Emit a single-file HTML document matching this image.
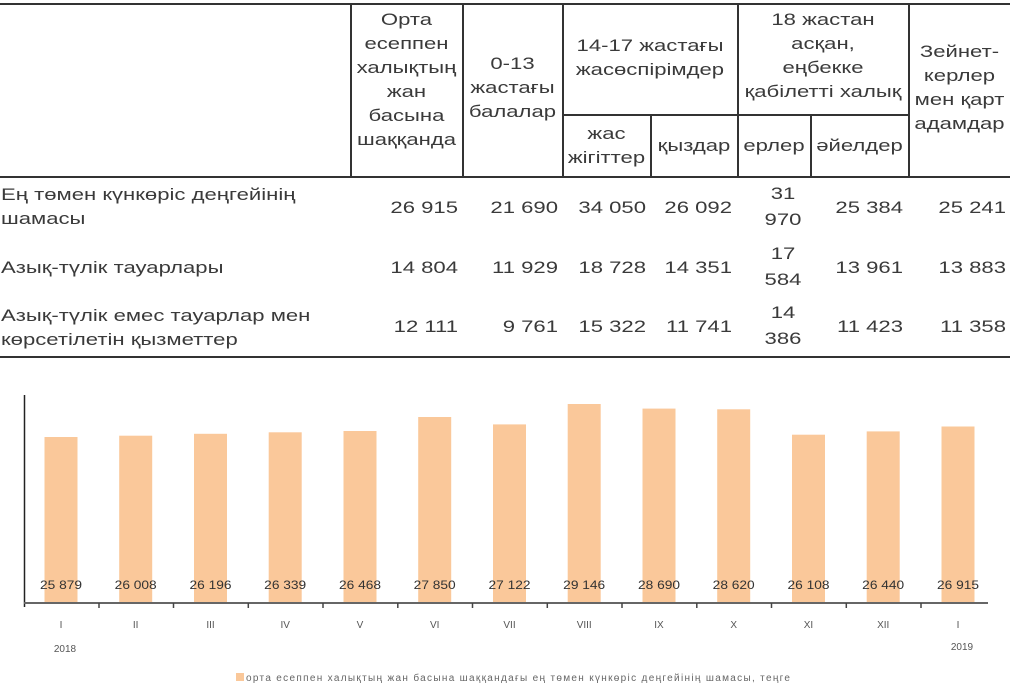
<!DOCTYPE html>
<html><head><meta charset="utf-8"><style>
body{margin:0;width:1024px;height:692px;background:#fff;position:relative;overflow:hidden;font-family:"Liberation Sans",Arial,sans-serif;color:#3a3a3a}
.t{position:absolute;font-size:17px;line-height:24px;white-space:nowrap;transform:scaleX(1.3)}
.c{text-align:center;transform-origin:center}
.r{text-align:right;transform-origin:right}
.l{transform-origin:left}
.h{position:absolute;background:#333;height:2px}
.v{position:absolute;background:#333;width:1.5px}
</style></head><body>
<div class="h" style="left:0;top:3px;width:1010px"></div>
<div class="h" style="left:0;top:176px;width:1010px"></div>
<div class="h" style="left:0;top:356px;width:1010px"></div>
<div class="h" style="left:562px;top:114px;width:346px;height:1.5px"></div>
<div class="v" style="left:350px;top:4px;height:173px"></div>
<div class="v" style="left:462px;top:4px;height:173px"></div>
<div class="v" style="left:562px;top:4px;height:173px"></div>
<div class="v" style="left:650px;top:115px;height:62px"></div>
<div class="v" style="left:737px;top:4px;height:173px"></div>
<div class="v" style="left:810px;top:115px;height:62px"></div>
<div class="v" style="left:908px;top:4px;height:173px"></div>

<div class="t c" style="left:351px;width:111px;top:8px">Орта<br>есеппен<br>халықтың<br>жан<br>басына<br>шаққанда</div>
<div class="t c" style="left:463px;width:99px;top:52px">0-13<br>жастағы<br>балалар</div>
<div class="t c" style="left:563px;width:174px;top:34px">14-17 жастағы<br>жасөспірімдер</div>
<div class="t c" style="left:738px;width:170px;top:8px">18 жастан<br>асқан,<br>еңбекке<br>қабілетті халық</div>
<div class="t c" style="left:909px;width:101px;top:40px">Зейнет-<br>керлер<br>мен қарт<br>адамдар</div>
<div class="t c" style="left:563px;width:87px;top:122px">жас<br>жігіттер</div>
<div class="t c" style="left:651px;width:86px;top:134px">қыздар</div>
<div class="t c" style="left:738px;width:72px;top:134px">ерлер</div>
<div class="t c" style="left:811px;width:97px;top:134px">әйелдер</div>

<div class="t l" style="left:1px;top:183px">Ең төмен күнкөріс деңгейінің<br>шамасы</div>
<div class="t l" style="left:1px;top:256px">Азық-түлік тауарлары</div>
<div class="t l" style="left:1px;top:304px">Азық-түлік емес тауарлар мен<br>көрсетілетін қызметтер</div>

<div class="t r" style="left:350px;width:108px;top:196px">26 915</div>
<div class="t r" style="left:462px;width:96px;top:196px">21 690</div>
<div class="t r" style="left:562px;width:84px;top:196px">34 050</div>
<div class="t r" style="left:650px;width:82px;top:196px">26 092</div>
<div class="t c" style="left:760px;width:46px;top:181px;line-height:26px">31<br>970</div>
<div class="t r" style="left:810px;width:93px;top:196px">25 384</div>
<div class="t r" style="left:908px;width:98px;top:196px">25 241</div>

<div class="t r" style="left:350px;width:108px;top:256px">14 804</div>
<div class="t r" style="left:462px;width:96px;top:256px">11 929</div>
<div class="t r" style="left:562px;width:84px;top:256px">18 728</div>
<div class="t r" style="left:650px;width:82px;top:256px">14 351</div>
<div class="t c" style="left:760px;width:46px;top:241px;line-height:26px">17<br>584</div>
<div class="t r" style="left:810px;width:93px;top:256px">13 961</div>
<div class="t r" style="left:908px;width:98px;top:256px">13 883</div>

<div class="t r" style="left:350px;width:108px;top:315px">12 111</div>
<div class="t r" style="left:462px;width:96px;top:315px">9 761</div>
<div class="t r" style="left:562px;width:84px;top:315px">15 322</div>
<div class="t r" style="left:650px;width:82px;top:315px">11 741</div>
<div class="t c" style="left:760px;width:46px;top:300px;line-height:26px">14<br>386</div>
<div class="t r" style="left:810px;width:93px;top:315px">11 423</div>
<div class="t r" style="left:908px;width:98px;top:315px">11 358</div>

<svg style="position:absolute;left:0;top:0" width="1024" height="692" font-family="Liberation Sans, Arial, sans-serif">
<g fill="#fac89a">
<rect x="44.5" y="437" width="33" height="166"/>
<rect x="119.2" y="435.7" width="33" height="167.3"/>
<rect x="194" y="433.8" width="33" height="169.2"/>
<rect x="268.7" y="432.3" width="33" height="170.7"/>
<rect x="343.5" y="431" width="33" height="172"/>
<rect x="418.2" y="417" width="33" height="186"/>
<rect x="493" y="424.4" width="33" height="178.6"/>
<rect x="567.7" y="404" width="33" height="199"/>
<rect x="642.5" y="408.6" width="33" height="194.4"/>
<rect x="717.2" y="409.3" width="33" height="193.7"/>
<rect x="792" y="434.7" width="33" height="168.3"/>
<rect x="866.7" y="431.4" width="33" height="171.6"/>
<rect x="941.5" y="426.5" width="33" height="176.5"/>
</g>
<line x1="24.5" y1="395" x2="24.5" y2="607" stroke="#222" stroke-width="1.5"/>
<line x1="24" y1="603" x2="988" y2="603" stroke="#666" stroke-width="2"/>
<g stroke="#444" stroke-width="1.5">
<line x1="99" y1="603" x2="99" y2="608"/><line x1="173.5" y1="603" x2="173.5" y2="608"/><line x1="248.3" y1="603" x2="248.3" y2="608"/><line x1="323" y1="603" x2="323" y2="608"/><line x1="397.8" y1="603" x2="397.8" y2="608"/><line x1="472.5" y1="603" x2="472.5" y2="608"/><line x1="547.3" y1="603" x2="547.3" y2="608"/><line x1="622" y1="603" x2="622" y2="608"/><line x1="696.8" y1="603" x2="696.8" y2="608"/><line x1="771.5" y1="603" x2="771.5" y2="608"/><line x1="846.3" y1="603" x2="846.3" y2="608"/><line x1="921" y1="603" x2="921" y2="608"/>
</g>
<g font-size="12" fill="#333" text-anchor="middle">
<text x="61" y="589" textLength="42" lengthAdjust="spacingAndGlyphs">25 879</text><text x="135.7" y="589" textLength="42" lengthAdjust="spacingAndGlyphs">26 008</text><text x="210.5" y="589" textLength="42" lengthAdjust="spacingAndGlyphs">26 196</text><text x="285.2" y="589" textLength="42" lengthAdjust="spacingAndGlyphs">26 339</text><text x="360" y="589" textLength="42" lengthAdjust="spacingAndGlyphs">26 468</text><text x="434.7" y="589" textLength="42" lengthAdjust="spacingAndGlyphs">27 850</text><text x="509.5" y="589" textLength="42" lengthAdjust="spacingAndGlyphs">27 122</text><text x="584.2" y="589" textLength="42" lengthAdjust="spacingAndGlyphs">29 146</text><text x="659" y="589" textLength="42" lengthAdjust="spacingAndGlyphs">28 690</text><text x="733.7" y="589" textLength="42" lengthAdjust="spacingAndGlyphs">28 620</text><text x="808.5" y="589" textLength="42" lengthAdjust="spacingAndGlyphs">26 108</text><text x="883.2" y="589" textLength="42" lengthAdjust="spacingAndGlyphs">26 440</text><text x="958" y="589" textLength="42" lengthAdjust="spacingAndGlyphs">26 915</text>
</g>
<g font-size="10" fill="#555" text-anchor="middle">
<text x="61" y="628">I</text><text x="135.7" y="628">II</text><text x="210.5" y="628">III</text><text x="285.2" y="628">IV</text><text x="360" y="628">V</text><text x="434.7" y="628">VI</text><text x="509.5" y="628">VII</text><text x="584.2" y="628">VIII</text><text x="659" y="628">IX</text><text x="733.7" y="628">X</text><text x="808.5" y="628">XI</text><text x="883.2" y="628">XII</text><text x="958" y="628">I</text>
<text x="65" y="652">2018</text><text x="962" y="650">2019</text>
</g>
<rect x="236" y="673" width="8" height="8" fill="#fac89a"/>
<text x="246" y="681" font-size="10" fill="#666" textLength="544">орта есеппен халықтың жан басына шаққандағы ең төмен күнкөріс деңгейінің шамасы, теңге</text>
</svg>
</body></html>
